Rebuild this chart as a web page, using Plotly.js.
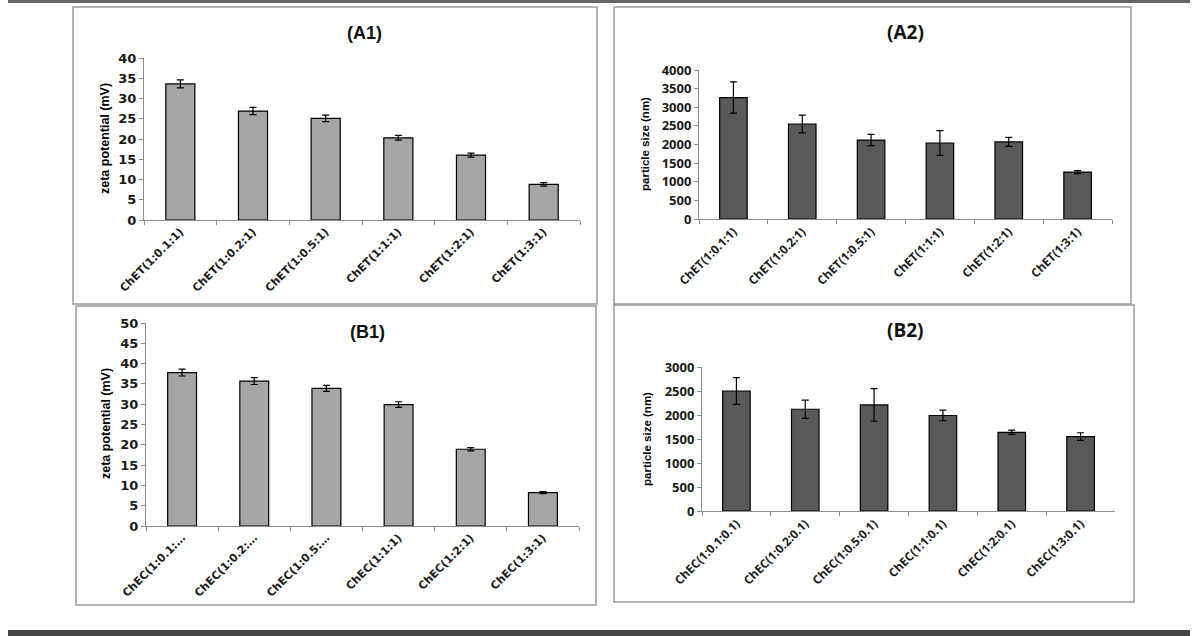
<!DOCTYPE html>
<html>
<head>
<meta charset="utf-8">
<script src="https://cdn.plot.ly/plotly-3.0.1.min.js"></script>
<style>
body { margin: 0; background: #fff; }
#chart { width: 1196px; height: 636px; }
</style>
</head>
<body>
<div id="chart"></div>
<script>
// categories
var cat_et = ['ChET(1:0.1:1)', 'ChET(1:0.2:1)', 'ChET(1:0.5:1)', 'ChET(1:1:1)', 'ChET(1:2:1)', 'ChET(1:3:1)'];
var cat_ec_zeta = ['ChEC(1:0.1:\u2026', 'ChEC(1:0.2:\u2026', 'ChEC(1:0.5:\u2026', 'ChEC(1:1:1)', 'ChEC(1:2:1)', 'ChEC(1:3:1)'];
var cat_ec_size = ['ChEC(1:0.1:0.1)', 'ChEC(1:0.2:0.1)', 'ChEC(1:0.5:0.1)', 'ChEC(1:1:0.1)', 'ChEC(1:2:0.1)', 'ChEC(1:3:0.1)'];

// (A1) zeta potential, ChET
var zeta_et = [33.6, 26.9, 25.1, 20.3, 16.0, 8.8];
var zeta_et_err = [1.0, 0.9, 0.8, 0.6, 0.5, 0.45];
// (A2) particle size, ChET
var size_et = [3260, 2550, 2120, 2040, 2070, 1260];
var size_et_err = [420, 240, 150, 330, 120, 40];
// (B1) zeta potential, ChEC
var zeta_ec = [37.8, 35.7, 33.9, 29.9, 18.9, 8.2];
var zeta_ec_err = [0.85, 0.85, 0.75, 0.7, 0.4, 0.25];
// (B2) particle size, ChEC
var size_ec = [2500, 2120, 2210, 1990, 1640, 1550];
var size_ec_err = [280, 190, 340, 110, 45, 80];

var W = 1196, H = 636;
function px(x) { return x / W; }
function py(y) { return 1 - y / H; }

var light = '#a6a6a6', dark = '#595959';
var excel_font = 'DejaVu Sans', calibri_font = 'Open Sans';

// panel layout in pixels: plot area, frame box, title spot, y title spot
var panels = [
	{ id: '', name: '(A1)', cats: cat_et, vals: zeta_et, errs: zeta_et_err, color: light, ymax: 40, dtick: 5,
	  ytitle: 'zeta potential (mV)', font: excel_font, tfont: 'Liberation Sans',
	  l: 144, r: 580, t: 58, b: 220, box: [73, 7, 597, 304], title: [364, 33], yt: [105, 139] },
	{ id: '2', name: '(A2)', cats: cat_et, vals: size_et, errs: size_et_err, color: dark, ymax: 4000, dtick: 500,
	  ytitle: 'particle size (nm)', font: calibri_font, tfont: calibri_font,
	  l: 699, r: 1112, t: 70, b: 219, box: [614, 7, 1131, 304], title: [905, 32], yt: [645, 144] },
	{ id: '3', name: '(B1)', cats: cat_ec_zeta, vals: zeta_ec, errs: zeta_ec_err, color: light, ymax: 50, dtick: 5,
	  ytitle: 'zeta potential (mV)', font: excel_font, tfont: 'Liberation Sans',
	  l: 146, r: 579, t: 323, b: 526, box: [76, 306, 596, 605], title: [367, 332], yt: [106, 424] },
	{ id: '4', name: '(B2)', cats: cat_ec_size, vals: size_ec, errs: size_ec_err, color: dark, ymax: 3000, dtick: 500,
	  ytitle: 'particle size (nm)', font: calibri_font, tfont: calibri_font,
	  l: 702, r: 1115, t: 367, b: 511, box: [614, 305, 1134, 602], title: [905, 330], yt: [647, 439] }
];

var data = [];
var layout = {
	width: W,
	height: H,
	margin: { l: 0, r: 0, t: 0, b: 0, pad: 0 },
	paper_bgcolor: '#ffffff',
	plot_bgcolor: 'rgba(0,0,0,0)',
	showlegend: false,
	shapes: [
		{ type: 'rect', xref: 'paper', yref: 'paper', x0: px(8), x1: px(1190), y0: py(0), y1: py(3),
		  fillcolor: '#666666', line: { width: 0 } },
		{ type: 'rect', xref: 'paper', yref: 'paper', x0: px(8), x1: px(1190), y0: py(630), y1: py(636),
		  fillcolor: '#444444', line: { width: 0 } }
	],
	annotations: []
};

panels.forEach(function(p) {
	var excel = p.font == excel_font;
	data.push({
		type: 'bar',
		x: p.cats,
		y: p.vals,
		xaxis: 'x' + p.id,
		yaxis: 'y' + p.id,
		width: 0.4,
		marker: { color: p.color, line: { color: '#000000', width: 1.2 } },
		error_y: { type: 'data', array: p.errs, visible: true, color: '#000000', thickness: 1.2, width: 3.5 },
		hoverinfo: 'x+y'
	});

	layout['xaxis' + p.id] = {
		domain: [px(p.l), px(p.r)],
		anchor: 'y' + p.id,
		type: 'category',
		range: [-0.5, 5.5],
		showline: true,
		linecolor: '#8c8c8c',
		linewidth: 1,
		ticks: 'outside',
		tickson: 'boundaries',
		ticklen: 4,
		tickcolor: '#8c8c8c',
		tickangle: -45,
		showgrid: false,
		zeroline: false,
		fixedrange: true,
		tickfont: { family: p.font, size: excel ? 11 : 12, color: '#1a1a1a', weight: 'bold' }
	};
	layout['yaxis' + p.id] = {
		domain: [py(p.b), py(p.t)],
		anchor: 'x' + p.id,
		range: [0, p.ymax],
		dtick: p.dtick,
		showline: true,
		linecolor: '#8c8c8c',
		linewidth: 1,
		ticks: 'outside',
		ticklen: 4,
		tickcolor: '#8c8c8c',
		showgrid: false,
		zeroline: false,
		fixedrange: true,
		tickfont: { family: p.font, size: 13, color: '#1a1a1a', weight: 'bold' }
	};

	layout.shapes.push({
		type: 'rect', xref: 'paper', yref: 'paper', layer: 'below',
		x0: px(p.box[0]), x1: px(p.box[2]), y0: py(p.box[3]), y1: py(p.box[1]),
		line: { color: '#9a9a9a', width: 1.5 }
	});

	layout.annotations.push({
		xref: 'paper', yref: 'paper', x: px(p.title[0]), y: py(p.title[1]),
		xanchor: 'center', yanchor: 'middle', showarrow: false,
		text: p.name,
		font: { family: p.tfont, size: excel ? 18 : 19, color: '#111111', weight: 'bold' }
	});
	layout.annotations.push({
		xref: 'paper', yref: 'paper', x: px(p.yt[0]), y: py(p.yt[1]),
		xanchor: 'center', yanchor: 'middle', showarrow: false, textangle: -90,
		text: p.ytitle,
		font: { family: 'Liberation Sans', size: excel ? 12.5 : 11.5, color: '#000000', weight: 'bold' }
	});
});

Plotly.newPlot('chart', data, layout, { displayModeBar: false, staticPlot: true });
</script>
</body>
</html>
